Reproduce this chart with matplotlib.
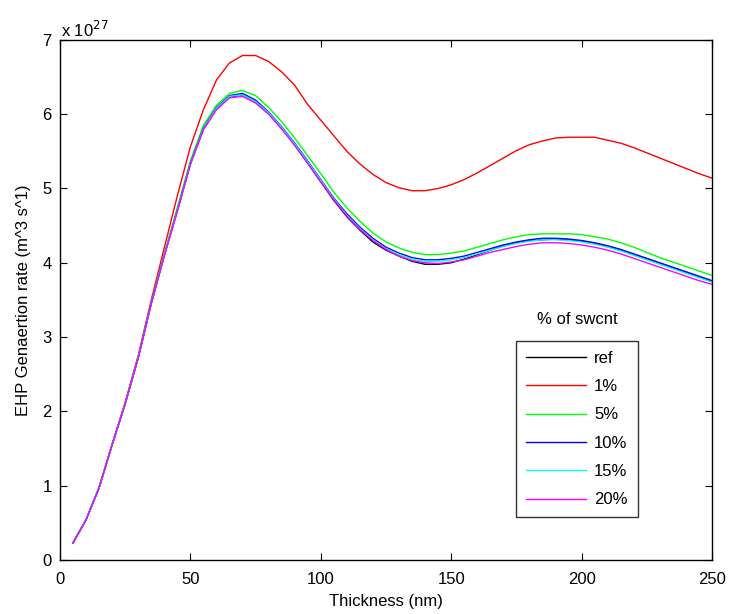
import matplotlib
matplotlib.use("Agg")
import matplotlib.pyplot as plt

plt.rcParams['font.family'] = ['Liberation Sans', 'DejaVu Sans']

thickness = list(range(5, 251, 5))

ref = [0.23, 0.54, 0.97, 1.55, 2.10, 2.72, 3.45, 4.10, 4.70, 5.33,
       5.80, 6.07, 6.23, 6.26, 6.17, 6.01, 5.81, 5.59, 5.34, 5.09,
       4.84, 4.62, 4.44, 4.28, 4.17, 4.09, 4.02, 3.98, 3.98, 4.00,
       4.05, 4.11, 4.17, 4.23, 4.27, 4.30, 4.31, 4.32, 4.31, 4.29,
       4.26, 4.22, 4.17, 4.11, 4.05, 3.99, 3.93, 3.87, 3.81, 3.75]

p1 = [0.23, 0.54, 0.98, 1.56, 2.12, 2.75, 3.50, 4.20, 4.90, 5.56,
      6.06, 6.46, 6.69, 6.79, 6.79, 6.71, 6.57, 6.39, 6.13, 5.92,
      5.71, 5.50, 5.33, 5.19, 5.08, 5.01, 4.97, 4.97, 5.00, 5.05,
      5.12, 5.21, 5.31, 5.41, 5.51, 5.59, 5.64, 5.68, 5.69, 5.69,
      5.69, 5.65, 5.61, 5.55, 5.48, 5.41, 5.34, 5.27, 5.20, 5.14]

p5 = [0.23, 0.54, 0.97, 1.55, 2.11, 2.73, 3.47, 4.12, 4.74, 5.37,
      5.85, 6.12, 6.28, 6.32, 6.25, 6.09, 5.90, 5.68, 5.44, 5.20,
      4.95, 4.74, 4.56, 4.40, 4.28, 4.20, 4.14, 4.11, 4.11, 4.13,
      4.16, 4.21, 4.26, 4.31, 4.35, 4.38, 4.39, 4.39, 4.39, 4.38,
      4.35, 4.32, 4.27, 4.21, 4.14, 4.07, 4.01, 3.95, 3.89, 3.83]

p10 = [0.23, 0.54, 0.97, 1.55, 2.10, 2.72, 3.45, 4.10, 4.71, 5.34,
       5.81, 6.09, 6.25, 6.28, 6.19, 6.03, 5.83, 5.61, 5.37, 5.12,
       4.87, 4.66, 4.48, 4.33, 4.21, 4.13, 4.07, 4.04, 4.04, 4.06,
       4.09, 4.14, 4.19, 4.24, 4.28, 4.31, 4.33, 4.33, 4.32, 4.30,
       4.27, 4.23, 4.18, 4.12, 4.06, 4.00, 3.94, 3.88, 3.82, 3.76]

p15 = [0.23, 0.54, 0.97, 1.55, 2.10, 2.72, 3.45, 4.10, 4.70, 5.33,
       5.80, 6.08, 6.24, 6.26, 6.17, 6.02, 5.82, 5.60, 5.36, 5.11,
       4.86, 4.64, 4.46, 4.31, 4.19, 4.11, 4.05, 4.02, 4.02, 4.04,
       4.07, 4.12, 4.17, 4.22, 4.26, 4.29, 4.31, 4.31, 4.30, 4.28,
       4.25, 4.21, 4.16, 4.10, 4.04, 3.98, 3.92, 3.86, 3.80, 3.74]

p20 = [0.23, 0.54, 0.97, 1.55, 2.10, 2.72, 3.45, 4.09, 4.69, 5.32,
       5.79, 6.06, 6.22, 6.24, 6.15, 6.00, 5.80, 5.58, 5.34, 5.09,
       4.85, 4.63, 4.45, 4.30, 4.18, 4.09, 4.03, 4.00, 3.99, 4.01,
       4.04, 4.09, 4.14, 4.18, 4.22, 4.25, 4.27, 4.27, 4.26, 4.24,
       4.21, 4.17, 4.12, 4.06, 4.00, 3.94, 3.88, 3.82, 3.76, 3.71]

labels = ['ref', '1%', '5%', '10%', '15%', '20%']
colors = ['black', 'red', '#00ff00', 'blue', 'cyan', 'magenta']
series = [ref, p1, p5, p10, p15, p20]

xticks = [0, 50, 100, 150, 200, 250]
yticks = [0, 1, 2, 3, 4, 5, 6, 7]

fs = 12

fig = plt.figure(figsize=(7.31, 6.14), dpi=100)
ax = fig.add_axes([0.082, 0.088, 0.892, 0.847])

for s, c, lab in zip(series, colors, labels):
    ax.plot(thickness, s, color=c, lw=1.0, label=lab)

ax.set_xlim(0, 250)
ax.set_ylim(0, 7)
ax.set_xticks(xticks)
ax.set_yticks(yticks)
ax.tick_params(axis='x', pad=9)
ax.tick_params(axis='y', pad=6)
ax.tick_params(direction='in', top=True, right=True, labelsize=fs, length=5)
for sp in ax.spines.values():
    sp.set_linewidth(1.0)

ax.set_xlabel('Thickness (nm)', fontsize=fs, labelpad=5)
ax.set_ylabel('EHP Genaertion rate (m^3 s^1)', fontsize=fs, labelpad=8)

fig.text(0.0835, 1 - 37 / 614, r'x 10$^{27}$', fontsize=fs, ha='left', va='baseline')

leg = ax.legend(loc='upper left', bbox_to_anchor=(515.7 / 731, 1 - 340.7 / 614),
                bbox_transform=fig.transFigure, fontsize=fs, frameon=True,
                fancybox=False, edgecolor='black', handlelength=3.6,
                labelspacing=0.8, borderpad=0.6, handletextpad=0.5,
                borderaxespad=0)
leg.get_frame().set_linewidth(1.0)

fig.text(577 / 731, 1 - 320 / 614, '% of swcnt', fontsize=fs, ha='center', va='center')

fig.savefig('out.png', dpi=100)
